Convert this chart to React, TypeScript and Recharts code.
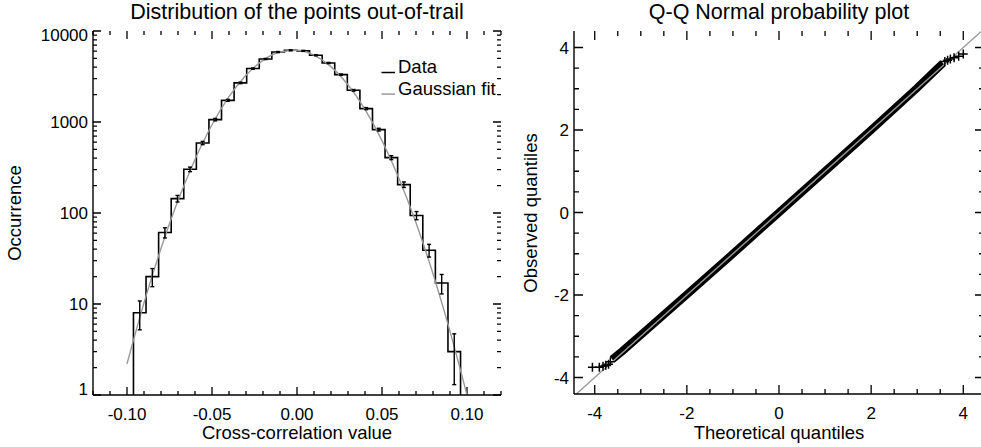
import { ComposedChart, Line, Scatter, XAxis, YAxis, ErrorBar, Legend } from "recharts";

const FONT = "'Liberation Sans', Arial, Helvetica, sans-serif";

// histogram of the out-of-trail cross-correlation values
const binLow = [
  -0.0962, -0.0888, -0.0814, -0.074, -0.0666, -0.0592, -0.0518, -0.0444, -0.037,
  -0.0296, -0.0222, -0.0148, -0.0074, 0.0, 0.0074, 0.0148, 0.0222, 0.0296, 0.037,
  0.0444, 0.0518, 0.0592, 0.0666, 0.074, 0.0814, 0.0888,
];
const binTop = 0.0962;
const counts = [
  8, 20, 61, 144, 302, 588, 1062, 1730, 2690, 3866, 4920, 5870, 6140, 6050, 5410,
  4450, 3318, 2230, 1403, 824, 406, 205, 94, 39, 17, 3,
];
const countErr = [
  2.8, 4.5, 7.8, 12, 17.4, 24.2, 32.6, 41.6, 51.9, 62.2, 70.1, 76.6, 78.4, 77.8,
  73.6, 66.7, 57.6, 47.2, 37.5, 28.7, 20.1, 14.3, 9.7, 6.2, 4.1, 1.7,
];

// grey gaussian fit
const fitX = [
  -0.1, -0.09, -0.08, -0.07, -0.06, -0.05, -0.04, -0.03, -0.02, -0.01, 0, 0.01,
  0.02, 0.03, 0.04, 0.05, 0.06, 0.07, 0.08, 0.09, 0.1,
];
const fitY = [
  2.2, 10.3, 40.7, 137, 388, 933, 1897, 3266, 4762, 5875, 6137, 5425, 4059, 2570,
  1377, 625, 240, 78, 21.5, 5.0, 1.0,
];

// Q-Q plot: dense central band + individual tail points
const qqTheo = [-3.62, -3.4, -3.0, -2.0, -1.0, 0, 1.0, 2.0, 3.0, 3.4, 3.56];
const qqObs = [-3.56, -3.36, -2.97, -1.99, -1.0, 0, 1.0, 2.0, 3.02, 3.45, 3.62];
const tailTheo = [-4.05, -3.9, -3.82, -3.76, -3.7, -3.66, 3.6, 3.66, 3.72, 3.8, 3.9, 4.0];
const tailObs = [-3.75, -3.75, -3.73, -3.7, -3.68, -3.62, 3.66, 3.69, 3.72, 3.75, 3.79, 3.84];
const refLine = [-4.4, 4.4];

const histMajorX = [-0.1, -0.05, 0, 0.05, 0.1];
const histMajorY = [1, 10, 100, 1000, 10000];
const qqMajor = [-4, -2, 0, 2, 4];

const histTicksX: number[] = [];
for (let i = -12; i <= 12; i++) histTicksX.push(i / 100);
const histTicksY: number[] = [];
histMajorY.slice(0, -1).forEach((d) => {
  for (let m = 1; m <= 9; m++) histTicksY.push(m * d);
});
histTicksY.push(10000);
const qqTicks: number[] = [];
for (let i = -8; i <= 8; i++) qqTicks.push(i / 2);

const histLine = [
  { x: binLow[0], y: 1 },
  ...binLow.map((x, i) => ({ x, y: counts[i] })),
  { x: binTop, y: 1 },
];
const histErr = binLow.map((x, i) => {
  const hi = i < binLow.length - 1 ? binLow[i + 1] : binTop;
  return { x: (x + hi) / 2, y: counts[i], err: countErr[i] };
});
const fitData = fitX.map((x, i) => ({ x, y: fitY[i] }));
const bandData = qqTheo.map((x, i) => ({ x, y: qqObs[i] }));
const tailData = tailTheo.map((x, i) => ({ x, y: tailObs[i] }));
const refData = refLine.map((v) => ({ x: v, y: v }));

const isMajor = (v: number, majors: number[]) =>
  majors.some((m) => Math.abs(m - v) < 1e-9 * Math.max(1, Math.abs(m)));

type Side = "bottom" | "top" | "left" | "right";
const SIDES: Side[] = ["top", "right", "bottom", "left"];

type FrameSpec = {
  xDom: [number, number];
  yDom: [number, number];
  xTicks: number[];
  yTicks: number[];
  xMajor: number[];
  yMajor: number[];
  big: number;
  small: number;
  plotW: number;
  plotH: number;
  logY?: boolean;
};

// inward tick marks as broken line segments along one edge of the frame
function tickSegments(side: Side, f: FrameSpec) {
  const dxPx = (f.xDom[1] - f.xDom[0]) / f.plotW;
  const yStep = (len: number, from: number, dir: 1 | -1) => {
    if (f.logY) {
      const dec = (Math.log10(f.yDom[1]) - Math.log10(f.yDom[0])) / f.plotH;
      return from * Math.pow(10, dir * dec * len);
    }
    return from + (dir * len * (f.yDom[1] - f.yDom[0])) / f.plotH;
  };
  const out: { x: number; y: number | null }[] = [];
  if (side === "bottom" || side === "top") {
    f.xTicks.forEach((v) => {
      const len = isMajor(v, f.xMajor) ? f.big : f.small;
      const y0 = side === "bottom" ? f.yDom[0] : f.yDom[1];
      const y1 = yStep(len, y0, side === "bottom" ? 1 : -1);
      out.push({ x: v, y: y0 }, { x: v, y: y1 }, { x: v, y: null });
    });
  } else {
    f.yTicks.forEach((v) => {
      const len = isMajor(v, f.yMajor) ? f.big : f.small;
      const x0 = side === "left" ? f.xDom[0] : f.xDom[1];
      const x1 = x0 + (side === "left" ? 1 : -1) * len * dxPx;
      out.push({ x: x0, y: v }, { x: x1, y: v }, { x: x1, y: null });
    });
  }
  return out;
}

function labelTick(side: "bottom" | "left", fmt: (v: number) => string, clampY?: [number, number]) {
  return (p: any) => {
    const v = p.payload.value;
    const x = Number(p.x);
    const y = Number(p.y);
    if (side === "bottom") {
      return (
        <text x={x} y={y + 24.5} textAnchor="middle" fontSize={17} fontFamily={FONT} fill="#000">
          {fmt(v)}
        </text>
      );
    }
    let cy = y;
    if (clampY) cy = Math.min(Math.max(y, clampY[0]), clampY[1]);
    return (
      <text x={x - 5} y={cy + 6} textAnchor="end" fontSize={17} fontFamily={FONT} fill="#000">
        {fmt(v)}
      </text>
    );
  };
}

const Empty = () => <g />;

const PlusMark = (p: any) => (
  <path
    d={`M${p.cx - 4.5},${p.cy}h9M${p.cx},${p.cy - 4.5}v9`}
    stroke="#000"
    strokeWidth={1.5}
    fill="none"
  />
);

function HistLegend({ payload }: any) {
  const items = (payload || []).filter((e: any) => e.type !== "none");
  return (
    <svg width={130} height={50} style={{ overflow: "visible" }}>
      {items.map((e: any, i: number) => (
        <g key={e.value}>
          <line x1={3.5} x2={17} y1={17.5 + i * 21.6} y2={17.5 + i * 21.6} stroke={e.color} strokeWidth={1.5} />
          <text x={20} y={18 + i * 21.6} fontSize={18.5} fontFamily={FONT} fill="#000">
            {e.value}
          </text>
        </g>
      ))}
    </svg>
  );
}

const axisLineStyle = { stroke: "#000", strokeWidth: 1.4 };

const HIST_X: [number, number] = [-0.12, 0.12];
const HIST_Y: [number, number] = [1, 10000];
const QQ_X: [number, number] = [-4.45, 4.45];
const QQ_Y: [number, number] = [-4.4, 4.4];

const histFrame: FrameSpec = {
  xDom: HIST_X,
  yDom: HIST_Y,
  xTicks: histTicksX,
  yTicks: histTicksY,
  xMajor: histMajorX,
  yMajor: histMajorY,
  big: 8,
  small: 4,
  plotW: 408,
  plotH: 364,
  logY: true,
};
const qqFrame: FrameSpec = {
  xDom: QQ_X,
  yDom: QQ_Y,
  xTicks: qqTicks,
  yTicks: qqTicks,
  xMajor: qqMajor,
  yMajor: qqMajor,
  big: 9,
  small: 5,
  plotW: 410,
  plotH: 363,
};

// all four edges in one broken-line series
const histTickData = SIDES.flatMap((s) => tickSegments(s, histFrame));
const qqTickData = SIDES.flatMap((s) => tickSegments(s, qqFrame));

function HistChart() {
  return (
    <ComposedChart width={511} height={447} margin={{ top: 31, right: 10, bottom: 0, left: 0 }}>
      <XAxis
        type="number"
        dataKey="x"
        domain={HIST_X}
        ticks={histMajorX}
        interval={0}
        tickSize={0}
        tickMargin={0}
        height={52}
        axisLine={axisLineStyle}
        tickLine={false}
        tick={labelTick("bottom", (v) => v.toFixed(2))}
      />
      <XAxis
        xAxisId="t"
        orientation="top"
        type="number"
        dataKey="x"
        domain={HIST_X}
        allowDataOverflow
        ticks={histMajorX}
        height={0}
        axisLine={axisLineStyle}
        tickLine={false}
        tick={Empty}
      />
      <YAxis
        type="number"
        dataKey="y"
        scale="log"
        domain={HIST_Y}
        ticks={histMajorY}
        interval={0}
        tickSize={0}
        tickMargin={0}
        width={93}
        axisLine={axisLineStyle}
        tickLine={false}
        tick={labelTick("left", (v) => String(v), [35, 389])}
      />
      <YAxis
        yAxisId="r"
        orientation="right"
        type="number"
        dataKey="y"
        scale="log"
        domain={HIST_Y}
        allowDataOverflow
        ticks={histMajorY}
        width={0}
        axisLine={axisLineStyle}
        tickLine={false}
        tick={Empty}
      />
      <Legend
        layout="horizontal"
        verticalAlign="middle"
        align="center"
        wrapperStyle={{ left: 378, top: 55, width: 130, height: 50 }}
        content={(props: any) => <HistLegend payload={props.payload} />}
      />
      <Line
        data={histTickData}
        dataKey="y"
        type="linear"
        stroke="#000"
        strokeWidth={1.3}
        dot={false}
        connectNulls={false}
        legendType="none"
        isAnimationActive={false}
      />
      <Line
        name="Data"
        data={histLine}
        dataKey="y"
        type="stepAfter"
        stroke="#000"
        strokeWidth={1.6}
        dot={false}
        isAnimationActive={false}
      />
      <Line
        name="Gaussian fit"
        data={fitData}
        dataKey="y"
        type="monotone"
        stroke="#999"
        strokeWidth={1.4}
        dot={false}
        isAnimationActive={false}
      />
      <Scatter
        name="errors"
        data={histErr}
        dataKey="y"
        shape={Empty}
        legendType="none"
        isAnimationActive={false}
      >
        <ErrorBar dataKey="err" direction="y" width={2} stroke="#000" strokeWidth={1.4} />
      </Scatter>
    </ComposedChart>
  );
}

function QQChart() {
  return (
    <ComposedChart width={476} height={447} margin={{ top: 31, right: 12, bottom: 0, left: 0 }}>
      <XAxis
        type="number"
        dataKey="x"
        domain={QQ_X}
        ticks={qqMajor}
        interval={0}
        tickSize={0}
        tickMargin={0}
        height={53}
        axisLine={axisLineStyle}
        tickLine={false}
        tick={labelTick("bottom", (v) => String(v))}
      />
      <XAxis
        xAxisId="t"
        orientation="top"
        type="number"
        dataKey="x"
        domain={QQ_X}
        allowDataOverflow
        ticks={qqMajor}
        height={0}
        axisLine={axisLineStyle}
        tickLine={false}
        tick={Empty}
      />
      <YAxis
        type="number"
        dataKey="y"
        domain={QQ_Y}
        ticks={qqMajor}
        interval={0}
        tickSize={0}
        tickMargin={0}
        width={54}
        axisLine={axisLineStyle}
        tickLine={false}
        tick={labelTick("left", (v) => String(v))}
      />
      <YAxis
        yAxisId="r"
        orientation="right"
        type="number"
        dataKey="y"
        domain={QQ_Y}
        allowDataOverflow
        ticks={qqMajor}
        width={0}
        axisLine={axisLineStyle}
        tickLine={false}
        tick={Empty}
      />
      <Line
        data={qqTickData}
        dataKey="y"
        type="linear"
        stroke="#000"
        strokeWidth={1.3}
        dot={false}
        connectNulls={false}
        legendType="none"
        isAnimationActive={false}
      />
      <Line
        data={bandData}
        dataKey="y"
        type="linear"
        stroke="#000"
        strokeWidth={8}
        dot={false}
        legendType="none"
        isAnimationActive={false}
      />
      <Scatter data={tailData} dataKey="y" shape={PlusMark} legendType="none" isAnimationActive={false} />
      <Line
        data={refData}
        dataKey="y"
        type="linear"
        stroke="#999"
        strokeWidth={1.4}
        dot={false}
        legendType="none"
        isAnimationActive={false}
      />
    </ComposedChart>
  );
}

export default function App() {
  return (
    <div
      style={{
        position: "absolute",
        left: 0,
        top: 0,
        width: 981,
        height: 447,
        overflow: "hidden",
        background: "#fff",
        fontFamily: FONT,
      }}
    >
      <div style={{ position: "absolute", left: 0, top: 0 }}>
        <HistChart />
      </div>
      <div style={{ position: "absolute", left: 520, top: 0 }}>
        <QQChart />
      </div>
      <svg
        width={981}
        height={447}
        style={{ position: "absolute", left: 0, top: 0, pointerEvents: "none" }}
        fontFamily={FONT}
      >
        <text x={297} y={19} textAnchor="middle" fontSize={21.5}>
          Distribution of the points out-of-trail
        </text>
        <text x={779} y={19} textAnchor="middle" fontSize={21.5}>
          Q-Q Normal probability plot
        </text>
        <text x={297} y={439} textAnchor="middle" fontSize={18.5}>
          Cross-correlation value
        </text>
        <text x={779} y={439} textAnchor="middle" fontSize={18.5}>
          Theoretical quantiles
        </text>
        <text x={21} y={213} textAnchor="middle" fontSize={18.5} transform="rotate(-90 21 213)">
          Occurrence
        </text>
        <text x={537} y={213} textAnchor="middle" fontSize={18.5} transform="rotate(-90 537 213)">
          Observed quantiles
        </text>
      </svg>
    </div>
  );
}
